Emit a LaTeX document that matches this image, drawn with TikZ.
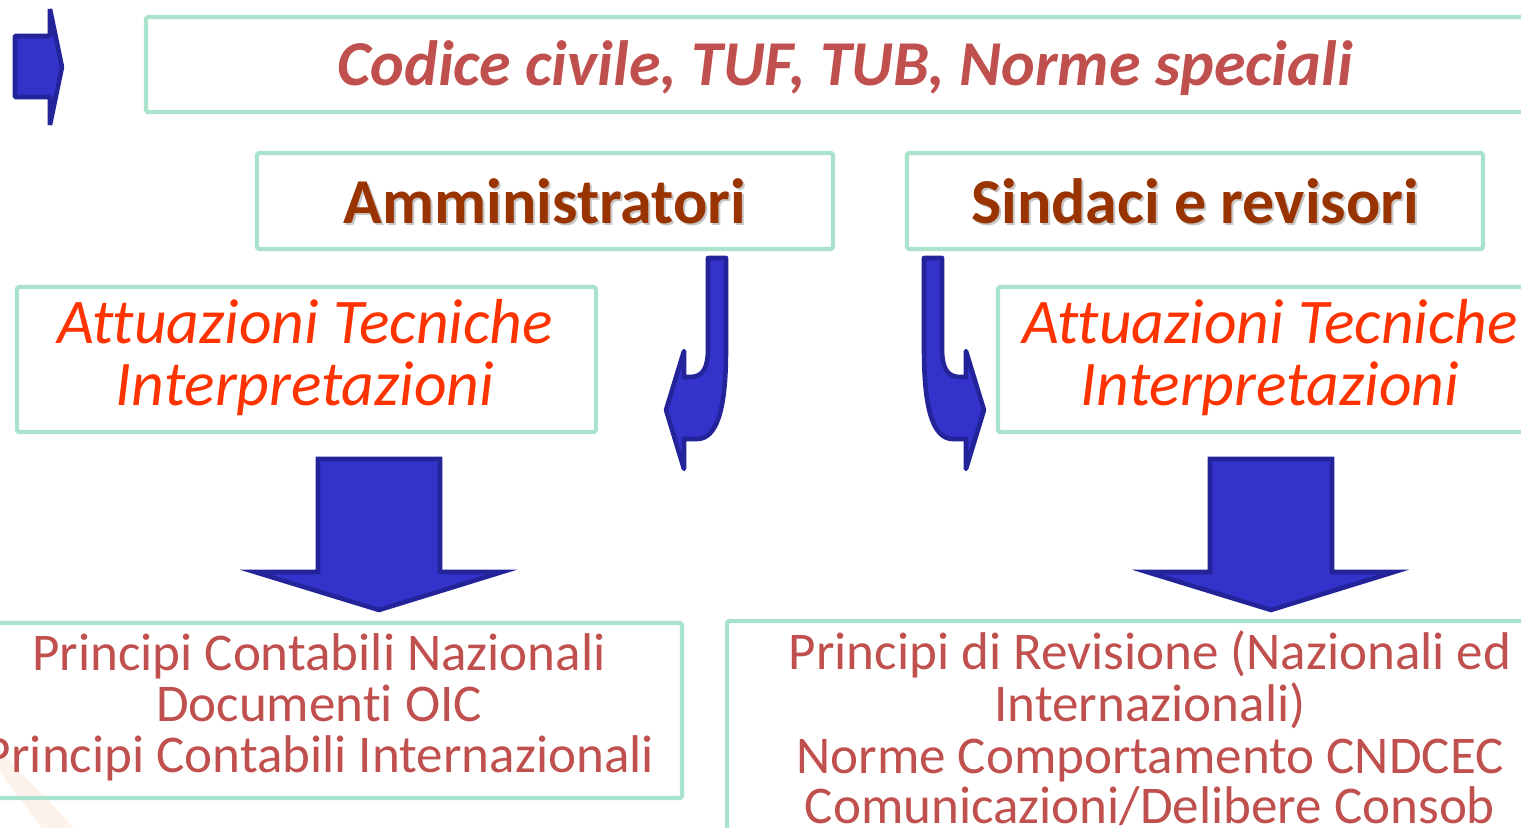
\documentclass[tikz,border=0pt]{standalone}
\usepackage{fontspec}
\setmainfont{Carlito}[Ligatures={NoCommon}]
\definecolor{boxgreen}{HTML}{A9E3CB}
\definecolor{arrowfill}{HTML}{3333CC}
\definecolor{arrowdraw}{HTML}{24249A}
\definecolor{redbrown}{HTML}{C0504D}
\definecolor{rust}{HTML}{993300}
\definecolor{flame}{HTML}{FF3300}
\definecolor{peach}{HTML}{FBE3D0}
\tikzset{
  greenbox/.style={draw=boxgreen, line width=2.3pt, rounded corners=1pt},
  bluearrow/.style={fill=arrowfill, draw=arrowdraw, line width=2.6pt},
  toptext/.style={anchor=base, inner sep=0pt, text=redbrown,
    font=\fontsize{36.4}{40}\selectfont\bfseries\itshape},
  headtext/.style={anchor=base, inner sep=0pt, text=rust,
    font=\fontsize{36.4}{40}\selectfont\bfseries},
  headshadow/.style={anchor=base, inner sep=0pt, text=black, opacity=0.22,
    font=\fontsize{36.4}{40}\selectfont\bfseries},
  techtext/.style={anchor=base, inner sep=0pt, text=flame,
    font=\fontsize{36.2}{40}\selectfont\itshape},
  listtext/.style={anchor=base, inner sep=0pt, text=redbrown,
    font=\fontsize{30.2}{34}\selectfont},
}
\begin{document}
\begin{tikzpicture}[x=0.02cm, y=-0.02cm]
\useasboundingbox (0,0) rectangle (1521,828);
\clip (0,0) rectangle (1521,828);
\fill[white] (0,0) rectangle (1521,828);
% faint background band
\fill[peach, opacity=0.4] (0,750) -- (0,772) -- (42,828) -- (74,828) -- cycle;

% boxes
\draw[greenbox] (146,17) rectangle (1545,112);
\draw[greenbox] (257,153) rectangle (833,249);
\draw[greenbox] (907,153) rectangle (1483,249);
\draw[greenbox] (17,287) rectangle (596,432);
\draw[greenbox] (998,287) rectangle (1545,432);
\draw[greenbox] (-20,623) rectangle (682,798);
\draw[greenbox] (727,621) rectangle (1545,850);

% top-left arrow
\draw[bluearrow, line join=bevel] (15,36) -- (50,36) -- (50,9) -- (62,67) -- (50,125) -- (50,97) -- (15,97) -- cycle;

% big down arrows
\draw[bluearrow, line join=miter] (318,459) -- (440,459) -- (440,572) -- (502,572) -- (379,610) -- (255,572) -- (318,572) -- cycle;
\draw[bluearrow, line join=miter] (1210,459) -- (1332,459) -- (1332,572) -- (1394,572) -- (1271,610) -- (1147,572) -- (1210,572) -- cycle;

% curved arrows
\draw[bluearrow, line join=round] (708,258) -- (726,258) -- (726,350)
  .. controls (726,412) and (716,438) .. (698,439) -- (684,439) -- (684,469) -- (666,410) -- (684,351) -- (684,377) -- (690,377)
  .. controls (703,377) and (708,368) .. (708,348) -- cycle;
\begin{scope}[shift={(1650,0)}, xscale=-1]
\draw[bluearrow, line join=round] (708,258) -- (726,258) -- (726,350)
  .. controls (726,412) and (716,438) .. (698,439) -- (684,439) -- (684,469) -- (666,410) -- (684,351) -- (684,377) -- (690,377)
  .. controls (703,377) and (708,368) .. (708,348) -- cycle;
\end{scope}

% texts
\node[toptext] (codice) at (845,86) {Codice civile, TUF, TUB, Norme speciali};

\node[headshadow] (ammsh) at (547,225) {Amministratori};
\node[headtext] (amm) at (545,223) {Amministratori};
\node[headshadow] (sindsh) at (1197,225) {Sindaci e revisori};
\node[headtext] (sind) at (1195,223) {Sindaci e revisori};

\node[techtext] (attL1) at (305,343) {Attuazioni Tecniche};
\node[techtext] (attL2) at (305,405) {Interpretazioni};
\node[techtext] (attR1) at (1270,343) {Attuazioni Tecniche};
\node[techtext] (attR2) at (1270,405) {Interpretazioni};

\node[listtext] (pl1) at (319,670) {Principi Contabili Nazionali};
\node[listtext] (pl2) at (319,721) {Documenti OIC};
\node[listtext] (pl3) at (319,772) {Principi Contabili Internazionali};

\node[listtext] (pr1) at (1150,669) {Principi di Revisione (Nazionali ed};
\node[listtext] (pr2) at (1150,721) {Internazionali)};
\node[listtext] (pr3) at (1150,773) {Norme Comportamento CNDCEC};
\node[listtext] (pr4) at (1150,823) {Comunicazioni/Delibere Consob};
\end{tikzpicture}
\end{document}
